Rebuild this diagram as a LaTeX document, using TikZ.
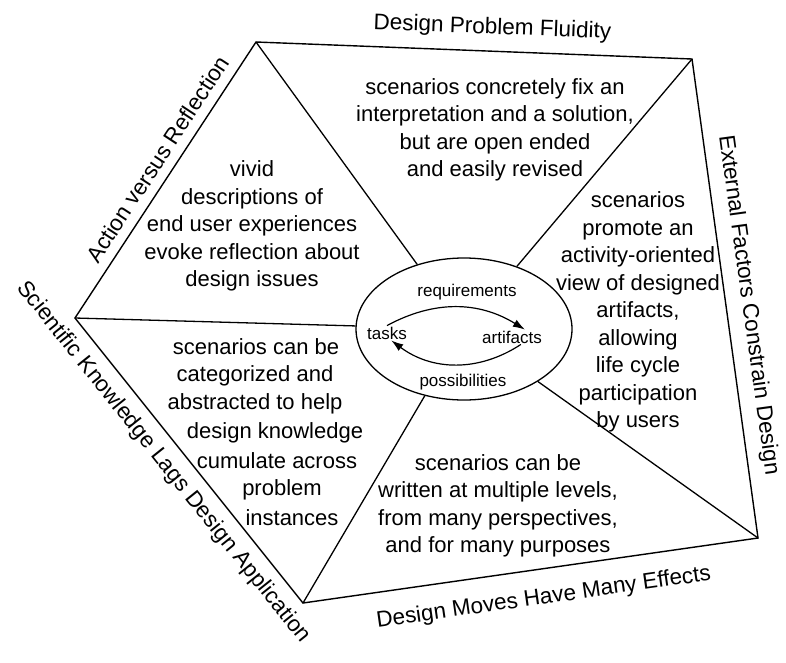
\documentclass[tikz,border=0pt]{standalone}
\usepackage{fontspec}
\setmainfont{Liberation Sans}
\usepackage{tikz}
\usetikzlibrary{arrows.meta, positioning, shapes}

\begin{document}
\begin{tikzpicture}[x=1pt, y=-1pt,
  edge/.style={line width=1.4pt, line join=miter},
  spoke/.style={line width=1.3pt},
  sector/.style={align=center, inner sep=0pt, font=\fontsize{22}{27.5}\selectfont},
  theme/.style={font=\fontsize{22.5}{26}\selectfont, sloped, inner sep=12pt},
  loopword/.style={font=\fontsize{17}{20}\selectfont, inner sep=1pt},
  cyclearrow/.style={line width=1.2pt, -{Latex[length=12pt,width=8pt]}}]
\useasboundingbox (0,0) rectangle (786,662);

% Corners of the frame
\coordinate (A) at (256,42);
\coordinate (B) at (692,59);
\coordinate (C) at (758,538);
\coordinate (D) at (303,603);
\coordinate (E) at (75,318);

% Frame with the five themes
\draw[edge] (E) -- node[theme, above, pos=0.54, inner sep=9pt] (action) {Action versus Reflection}
  (A) -- node[theme, above, pos=0.54] (fluidity) {Design Problem Fluidity}
  (B) -- node[theme, above, pos=0.52, inner sep=11pt] (external) {External Factors Constrain Design}
  (C) -- node[theme, below, pos=0.48, inner sep=18pt] (moves) {Design Moves Have Many Effects}
  (D) -- node[theme, below, pos=0.54, inner sep=10pt] (lags) {Scientific Knowledge Lags Design Application} cycle;

% Task-artifact cycle
\node[draw, ellipse, line width=1.3pt, minimum width=216pt, minimum height=142pt, inner sep=0pt]
  (core) at (464,329) {};
\node[loopword] (tasks) at (387,333) {tasks};
\node[loopword] (artifacts) at (512,337) {artifacts};
\node[loopword] (req) at (467,292) {requirements};
\node[loopword] (poss) at (463,382) {possibilities};
\draw[cyclearrow] (tasks.north) to[bend left=30] (artifacts.30);
\draw[cyclearrow] (artifacts.-40) to[bend left=35] (tasks.-60);

% Spokes
\foreach \v in {A,B,C,D,E}
    \draw[spoke] (\v) -- (core);

% Claims
\node[sector] (fixTxt) at (495,130) {scenarios concretely fix an\\interpretation and a solution,\\but are open ended\\and easily revised};
\node[sector] (vividTxt) at (252,226) {vivid\\descriptions of\\end user experiences\\evoke reflection about\\design issues};
\node[sector] (promoteTxt) at (638,312) {scenarios\\promote an\\activity-oriented\\view of designed\\artifacts,\\allowing\\life cycle\\participation\\by users};
\node[sector] (levelsTxt) at (498,506) {scenarios can be\\written at multiple levels,\\from many perspectives,\\and for many purposes};
\foreach \txt/\cx [count=\i] in {scenarios can be/256, categorized and/255, abstracted to help/255,
    design knowledge/275, cumulate across/277, problem/282, instances/292}
    \node[sector] (cumTxt\i) at (\cx, 318.5+28.5*\i) {\txt};
\end{tikzpicture}
\end{document}
